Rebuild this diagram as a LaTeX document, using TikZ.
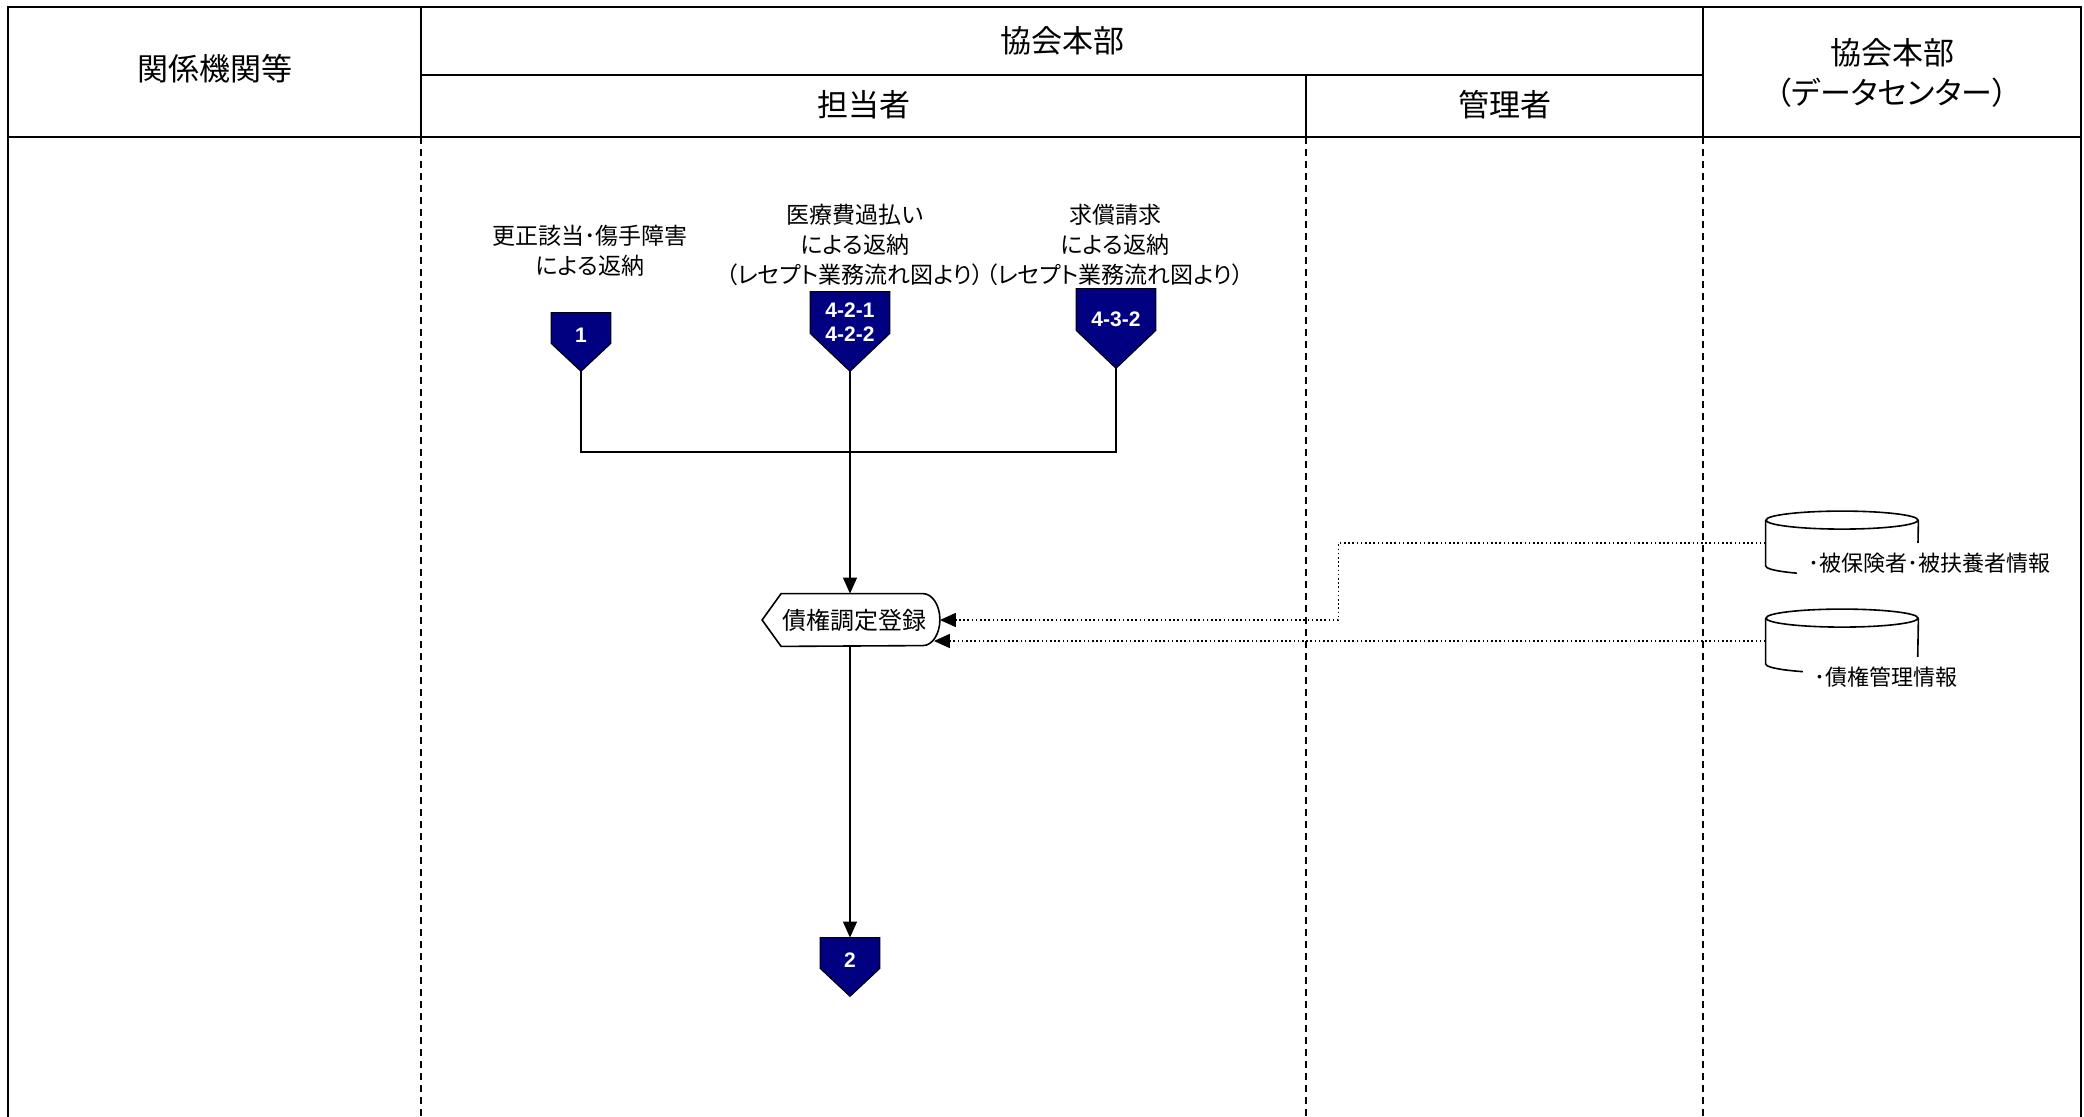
\documentclass[tikz,border=0pt]{standalone}
\usepackage{fontspec}
\setmainfont{Noto Sans CJK JP}[RawFeature=+palt]
\newfontfamily\numfont{Liberation Sans}
\usepackage{xcolor}
\usetikzlibrary{arrows.meta}
\usetikzlibrary{backgrounds}
\definecolor{pagenavy}{RGB}{0,0,128}
\tikzstyle{lanehead} = [font=\fontsize{15.5pt}{20pt}\selectfont, align=center]
\tikzstyle{lanerule} = [line width=1pt]
\tikzstyle{lanedash} = [line width=0.7pt, dash pattern=on 3.5pt off 2.5pt]
\tikzstyle{pagebox} = [inner sep=0pt, text=white, align=center,
font=\numfont\bfseries\fontsize{10.5pt}{12pt}\selectfont]
\tikzstyle{pagefill} = [fill=pagenavy, draw=black, line width=0.5pt]
\tikzstyle{lbl} = [font=\fontsize{11.5pt}{15pt}\selectfont, align=center, inner sep=0pt]
\tikzstyle{procbox} = [inner sep=0pt, minimum width=88.5pt, minimum height=26pt,
font=\fontsize{12pt}{15pt}\selectfont]
\tikzstyle{dbbox} = [inner sep=0pt, minimum width=76pt, minimum height=31.5pt]
\tikzstyle{dblabel} = [fill=white, inner xsep=5.5pt, inner ysep=0pt, minimum height=20pt,
font=\fontsize{11pt}{15pt}\selectfont]
\tikzstyle{flowline} = [line width=0.6pt]
\tikzstyle{flowarrow} = [flowline, -{Triangle[length=8pt,width=7pt]}]
\tikzstyle{flowdot} = [line width=0.8pt, dash pattern=on 0.8pt off 1.3pt,
-{Triangle[length=8pt,width=7pt]}]

\begin{document}
\begin{tikzpicture}[x=0.5pt, y=-0.5pt]
        \useasboundingbox (0,0) rectangle (2084,1117);
        \draw[lanerule] (8,1117) -- (8,7) -- (2081,7) -- (2081,1117);
        \draw[lanerule] (8,137) -- (2081,137);
        \draw[lanerule] (421,75) -- (1703,75);
        \draw[lanerule] (421,7) -- (421,137) (1703,7) -- (1703,137) (1306,75) -- (1306,137);
        \foreach \x in {421,1306,1703}
            \draw[lanedash] (\x,137) -- (\x,1117);

        \node[lanehead] (org) at (214.5,69) {関係機関等};
        \node[lanehead] (hq) at (1062,41) {協会本部};
        \node[lanehead] (staff) at (863.5,105) {担当者};
        \node[lanehead] (mgr) at (1504.5,105) {管理者};
        \node[lanehead] (dc) at (1892,73) {協会本部\\（データセンター）};

        \node[lbl] (note1) at (590,251) {更正該当･傷手障害\\による返納};
        \node[lbl] (note2) at (855,245) {医療費過払い\\による返納\\（レセプト業務流れ図より）};
        \node[lbl] (note3) at (1115,245) {求償請求\\による返納\\（レセプト業務流れ図より）};

        \node[pagebox, minimum width=29.5pt, minimum height=22pt] (pg1) at (581,335) {1};
        \node[pagebox, minimum width=39.5pt, minimum height=30pt] (pg2) at (850,322) {4-2-1\\4-2-2};
        \node[pagebox, minimum width=39.5pt, minimum height=30pt] (pg3) at (1116,319) {4-3-2};
        \node[pagebox, minimum width=29.5pt, minimum height=22pt] (pg4) at (850,960) {2};
        \begin{scope}[on background layer]
            \foreach \p/\t in {pg1/7pt,pg2/9.5pt,pg3/9.5pt,pg4/7pt}{
                \filldraw[pagefill] (\p.north west) -- (\p.north east) -- ([yshift=\t]\p.south east)
                    -- ([yshift=-\t]\p.south) -- ([yshift=\t]\p.south west) -- cycle;
                \coordinate (\p-tip) at ([yshift=-\t]\p.south);
            }
        \end{scope}

        \node[procbox] (proc) at (851,620) {\hspace*{3pt}債権調定登録};
        \draw[line width=0.8pt] ([xshift=9.5pt]proc.north west) -- ([xshift=-8.5pt]proc.north east)
            arc[start angle=90, end angle=-90, x radius=8.5pt, y radius=13pt]
            -- ([xshift=9.5pt]proc.south west) -- (proc.west) -- cycle;

        \node[dbbox] (db1) at (1842,543) {};
        \node[dbbox] (db2) at (1842,641) {};
        \foreach \d in {db1,db2}
            \draw[line width=0.8pt] ([yshift=-4.5pt]\d.north) ellipse [x radius=38pt, y radius=4.5pt]
                ([yshift=-4.5pt]\d.north west) -- ([yshift=4.5pt]\d.south west)
                arc[start angle=180, end angle=360, x radius=38pt, y radius=4.5pt]
                -- ([yshift=-4.5pt]\d.north east);
        \node[dblabel, anchor=north west] (db1txt) at (1797,543) {･被保険者･被扶養者情報};
        \node[dblabel, anchor=north west] (db2txt) at (1803,657) {･債権管理情報};

        \coordinate (merge) at (850,452);
        \coordinate (procin) at ([shift={(-3pt,-10pt)}]proc.east);
        \draw[flowline] (pg1-tip) |- (merge) -| (pg3-tip);
        \draw[flowarrow] (pg2-tip) -- (pg2-tip |- proc.north);
        \draw[flowarrow] (proc.south -| pg4.north) -- (pg4.north);
        \draw[flowdot] (db1.west) -- ++(-427,0) |- (proc.east);
        \draw[flowdot] (db2.west) -- (db2.west -| procin);
    \end{tikzpicture}
\end{document}
